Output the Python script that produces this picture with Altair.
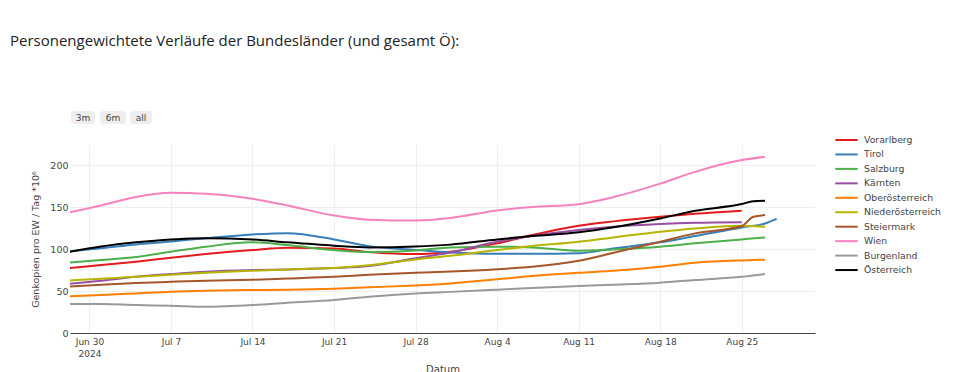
import altair as alt
import pandas as pd

dates = ["2024-06-28", "2024-07-01", "2024-07-04", "2024-07-07", "2024-07-10",
         "2024-07-14", "2024-07-17", "2024-07-21", "2024-07-24", "2024-07-28",
         "2024-07-31", "2024-08-04", "2024-08-07", "2024-08-11", "2024-08-14",
         "2024-08-18", "2024-08-21", "2024-08-25", "2024-08-26", "2024-08-27",
         "2024-08-28"]

series_names = ["Vorarlberg", "Tirol", "Salzburg", "Kärnten", "Oberösterreich",
                "Niederösterreich", "Steiermark", "Wien", "Burgenland", "Österreich"]

vorarlberg = [77, 81, 85, 89.7, 94, 98.8, 101.6, 100.8, 96.4, 94, 96.8, 106.8, 116.7, 127.8, 133, 138.5, 142, 145.6, None, None, None]
tirol = [97, 101, 105.5, 109, 113, 117.5, 119, 111.5, 103.5, 99, 96, 94.4, 94.4, 95, 100.8, 108, 115.5, 125.8, None, 130.5, 136]
salzburg = [83.7, 87, 90.5, 96.8, 102.8, 108, 104.8, 98.8, 96.4, 98.4, 102, 102.8, 102, 98, 99.6, 102.8, 106.8, 111.5, None, 113.9, None]
kaernten = [58.3, 62.3, 67, 70.2, 73, 75, 75.8, 77.4, 79.8, 89, 96, 108.7, 115.5, 122.6, 126.5, 129.8, 131.3, 132, None, None, None]
oberoesterreich = [43.7, 45.2, 47.2, 49.2, 50.4, 51.2, 51.6, 52.8, 54.4, 56.7, 59.1, 63.9, 67.9, 71.8, 74.2, 79, 83.7, 86.5, None, 87.3, None]
niederoesterreich = [62.3, 64.7, 67, 69.4, 71.8, 74.2, 75.8, 77.4, 80.6, 87.7, 92, 98.8, 103.6, 108.7, 113.9, 120.6, 124.6, 127.8, None, 126.6, None]
steiermark = [55, 57.5, 59.5, 61, 62.3, 63.5, 65, 67, 69.4, 71.8, 73.2, 76, 79, 86, 95.6, 108.7, 118.7, 127.4, 138.5, 140.5, None]
wien = [143, 152, 162, 167, 166, 160, 152, 140, 135, 134, 137, 146, 150, 153.5, 162, 178, 192, 206, None, 210, None]
burgenland = [34.5, 34.5, 33.3, 32.5, 31.3, 33.3, 36.1, 39.3, 43.3, 47.2, 49, 51.6, 53.6, 56, 57.5, 59.9, 63.1, 67, None, 70.2, None]
oesterreich = [96, 103, 108, 111.5, 113, 111.5, 108, 104, 102, 103, 105.3, 111.5, 115.5, 120, 126, 136.5, 145.6, 153.6, 157, 157.5, None]

series_values = [vorarlberg, tirol, salzburg, kaernten, oberoesterreich,
                 niederoesterreich, steiermark, wien, burgenland, oesterreich]

colors = ["#e41a1c", "#377eb8", "#4daf4a", "#984ea3", "#ff7f00",
          "#b5b500", "#a65628", "#f781bf", "#999999", "#000000"]

tick_days = [(6, 30), (7, 7), (7, 14), (7, 21), (7, 28), (8, 4), (8, 11), (8, 18), (8, 25)]
y_ticks = [0, 50, 100, 150, 200]
button_labels = ["3m", "6m", "all"]

rows = []
for name, vals in zip(series_names, series_values):
    for d, v in zip(dates, vals):
        if v is not None:
            rows.append({"Datum": d, "Bundesland": name, "Wert": v})
df = pd.DataFrame(rows)

FONT = "DejaVu Sans"

x_enc = alt.X(
    "Datum:T",
    scale=alt.Scale(
        type="utc",
        domain=[alt.DateTime(year=2024, month=6, date=28, hours=8, utc=True),
                alt.DateTime(year=2024, month=8, date=31, hours=7, utc=True)],
    ),
    axis=alt.Axis(
        values=[alt.DateTime(year=2024, month=m, date=d, utc=True) for m, d in tick_days],
        labelExpr="[utcFormat(datum.value, '%b %-d'), datum.index == 0 ? '2024' : '']",
        labelFont=FONT, labelFontSize=9, labelColor="#444", labelLineHeight=12,
        labelPadding=4, ticks=False, grid=True, gridColor="#eeeeee",
        domainColor="#444", domainWidth=1,
        title="Datum", titleFont=FONT, titleFontSize=10, titleFontWeight="normal",
        titleColor="#444", titlePadding=6,
    ),
)

y_enc = alt.Y(
    "Wert:Q",
    scale=alt.Scale(domain=[0, 224], nice=False),
    axis=alt.Axis(
        values=y_ticks, labelFont=FONT, labelFontSize=9.5, labelColor="#444",
        labelPadding=2, ticks=False, domain=False, grid=True, gridColor="#eeeeee",
        title="Genkopien pro EW / Tag *10⁶", titleFont=FONT, titleFontSize=9.5,
        titleFontWeight="normal", titleColor="#444", titlePadding=9,
    ),
)

lines = alt.Chart(df).mark_line(strokeWidth=2, interpolate="monotone", clip=True).encode(
    x=x_enc,
    y=y_enc,
    color=alt.Color(
        "Bundesland:N",
        scale=alt.Scale(domain=series_names, range=colors),
        sort=series_names,
        legend=alt.Legend(
            title=None, orient="none", legendX=768.5, legendY=-13,
            symbolType="M-1.6,0H1.6", symbolSize=196, symbolStrokeWidth=2,
            labelFont=FONT, labelFontSize=9.3, labelColor="#444",
            labelOffset=9.5, rowPadding=0.45, padding=0,
        ),
    ),
    detail="Bundesland:N",
)

dummy = pd.DataFrame({"k": [0]})
button_x = [(1, 25), (30, 56), (60, 82)]
button_layers = []
for lab, (x0, x1) in zip(button_labels, button_x):
    button_layers.append(
        alt.Chart(dummy).mark_rect(color="#eeeeee", cornerRadius=3).encode(
            x=alt.value(x0), x2=alt.value(x1), y=alt.value(-34), y2=alt.value(-21)
        )
    )
    button_layers.append(
        alt.Chart(dummy).mark_text(text=lab, font=FONT, fontSize=9, color="#444",
                                   align="center", baseline="middle").encode(
            x=alt.value((x0 + x1) / 2), y=alt.value(-27.5)
        )
    )

chart = alt.layer(lines, *button_layers).properties(
    width=745,
    height=188,
    autosize=alt.AutoSizeParams(type="none"),
    padding={"left": 62, "top": 137, "right": 137, "bottom": 40},
    title=alt.TitleParams(
        "Personengewichtete Verläufe der Bundesländer (und gesamt Ö):",
        anchor="start", frame="group", dx=-60, offset=62,
        font="Open Sans", fontSize=15, fontWeight="normal", color="#222",
    ),
).configure_view(stroke=None)

chart.save("out.html", embed_options={"renderer": "svg", "actions": False})
